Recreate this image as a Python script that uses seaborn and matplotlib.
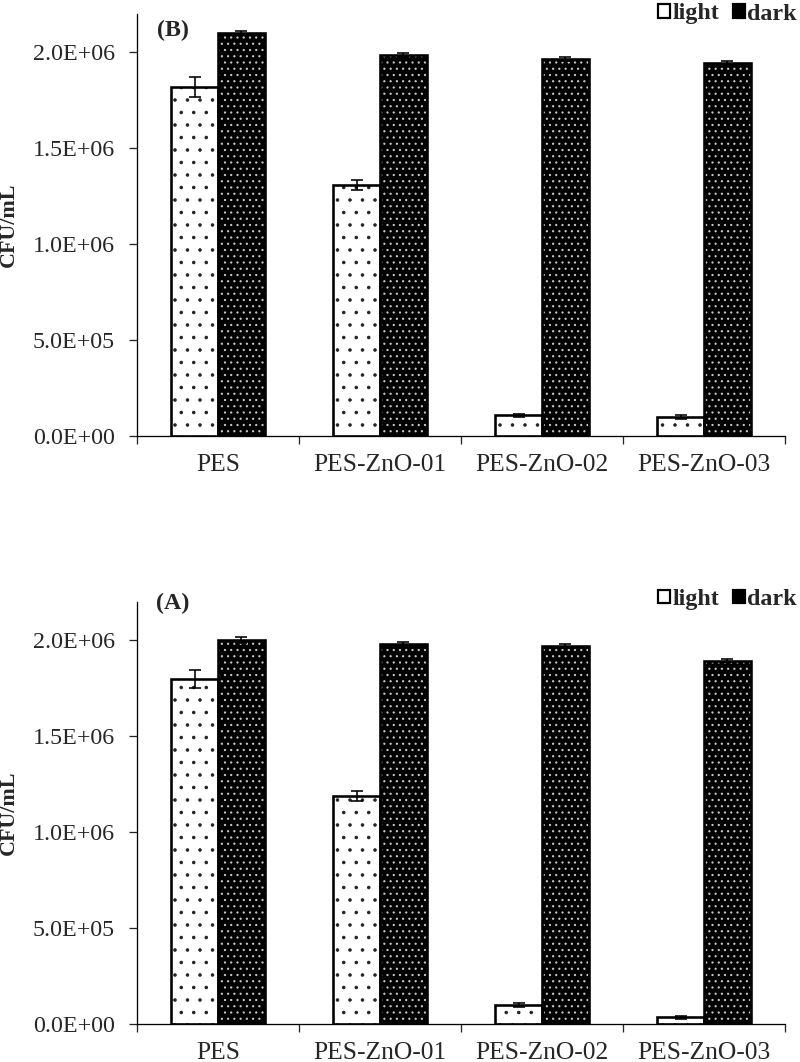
import pandas as pd
import seaborn as sns
import matplotlib
matplotlib.use("Agg")
import matplotlib.pyplot as plt
from matplotlib.patches import Patch, Rectangle
from matplotlib.ticker import FuncFormatter

samples = ["PES", "PES-ZnO-01", "PES-ZnO-02", "PES-ZnO-03"]
conditions = ["light", "dark"]

# panel B (top)
b_light = [1.82e6, 1.31e6, 1.08e5, 1.0e5]
b_light_err = [5.2e4, 2.5e4, 8e3, 1.0e4]
b_dark = [2.10e6, 1.985e6, 1.965e6, 1.945e6]
b_dark_err = [1.0e4, 1.0e4, 1.0e4, 1.0e4]

# panel A (bottom)
a_light = [1.80e6, 1.19e6, 1.0e5, 3.5e4]
a_light_err = [4.8e4, 2.5e4, 1.0e4, 8e3]
a_dark = [2.0e6, 1.98e6, 1.97e6, 1.895e6]
a_dark_err = [1.5e4, 1.0e4, 1.0e4, 1.0e4]

DPI = 75  # hatch spacing scales with dpi, 75 gives the denser dot grid


def pt(px):
    # sizes below are thought of in output pixels
    return px * 72.0 / DPI


sns.set_style("ticks")
plt.rcParams["font.family"] = ["Liberation Serif", "DejaVu Serif"]
plt.rcParams["hatch.linewidth"] = pt(1.0)

fig = plt.figure(figsize=(800 / DPI, 1062 / DPI), dpi=DPI)
ax_top = fig.add_axes([137 / 800, (1062 - 436) / 1062, 648 / 800, 422 / 1062])
ax_bot = fig.add_axes([137 / 800, (1062 - 1024) / 1062, 648 / 800, 422 / 1062])


def sci(v, pos):
    return "%.1E" % v


def draw_panel(ax, light, light_err, dark, dark_err, tag, tag_y, leg_y):
    df = pd.DataFrame({
        "sample": samples * 2,
        "cond": ["light"] * 4 + ["dark"] * 4,
        "cfu": light + dark,
    })
    sns.barplot(data=df, x="sample", y="cfu", hue="cond", hue_order=conditions,
                order=samples, errorbar=None, width=0.58, gap=0, legend=False,
                palette=["white", "black"], ax=ax)
    errs = [light_err, dark_err]
    bar_groups = list(ax.containers)[:2]
    for ci, cont in enumerate(bar_groups):
        xs, ys = [], []
        for p in cont.patches:
            if ci == 0:
                p.set_facecolor("white")
                p.set_edgecolor("#222222")
                p.set_hatch(".")
                p.set_linewidth(0)
            else:
                p.set_facecolor("black")
                p.set_edgecolor("#c8c8c8")
                p.set_hatch("..")
                p.set_linewidth(0)
            # outline drawn separately so the hatch colour can differ
            ax.add_patch(Rectangle(p.get_xy(), p.get_width(), p.get_height(),
                                   fill=False, edgecolor="black", linewidth=pt(2.6), zorder=3))
            xs.append(p.get_x() + p.get_width() / 2)
            ys.append(p.get_height())
        ax.errorbar(xs, ys, yerr=errs[ci], fmt="none", ecolor="black",
                    elinewidth=pt(1.6), capsize=pt(6), capthick=pt(1.6), zorder=4)

    ax.set_ylim(0, 2.2e6)
    ax.set_xlim(-0.5, 3.5)
    ax.set_yticks([0, 5e5, 1e6, 1.5e6, 2e6])
    ax.yaxis.set_major_formatter(FuncFormatter(sci))
    ax.set_xlabel("")
    ax.set_ylabel("CFU/mL", fontsize=pt(22), fontweight="bold")
    ax.yaxis.set_label_coords(-118 / 648, 0.5)
    ax.set_xticks([-0.5, 0.5, 1.5, 2.5, 3.5], minor=True)
    ax.tick_params(axis="x", which="major", length=0, labelsize=pt(25.5), pad=pt(18))
    ax.tick_params(axis="x", which="minor", length=pt(8), width=pt(1.3), direction="out")
    ax.tick_params(axis="y", labelsize=pt(24), length=pt(8), width=pt(1.3),
                   direction="out", pad=pt(14))
    for s in ["top", "right"]:
        ax.spines[s].set_visible(False)
    for s in ["left", "bottom"]:
        ax.spines[s].set_linewidth(pt(1.3))
        ax.spines[s].set_color("black")
    ax.text(36 / 648, tag_y, tag, transform=ax.transAxes, fontsize=pt(24),
            fontweight="bold", va="center", ha="center")
    handles = [Patch(facecolor="white", edgecolor="black", linewidth=pt(2.2)),
               Patch(facecolor="black", edgecolor="black", linewidth=pt(2.2))]
    ax.legend(handles, conditions, loc="center right", bbox_to_anchor=(1.0185, leg_y),
              frameon=False, prop={"size": pt(24), "weight": "bold"},
              handlelength=0.5, handleheight=0.5, handletextpad=0.12,
              columnspacing=0.55, ncol=2, borderaxespad=0, borderpad=0)


draw_panel(ax_top, b_light, b_light_err, b_dark, b_dark_err, "(B)", 0.96, 1.0)
draw_panel(ax_bot, a_light, a_light_err, a_dark, a_dark_err, "(A)", 0.996, 1.006)

fig.savefig("out.png", dpi=DPI)
